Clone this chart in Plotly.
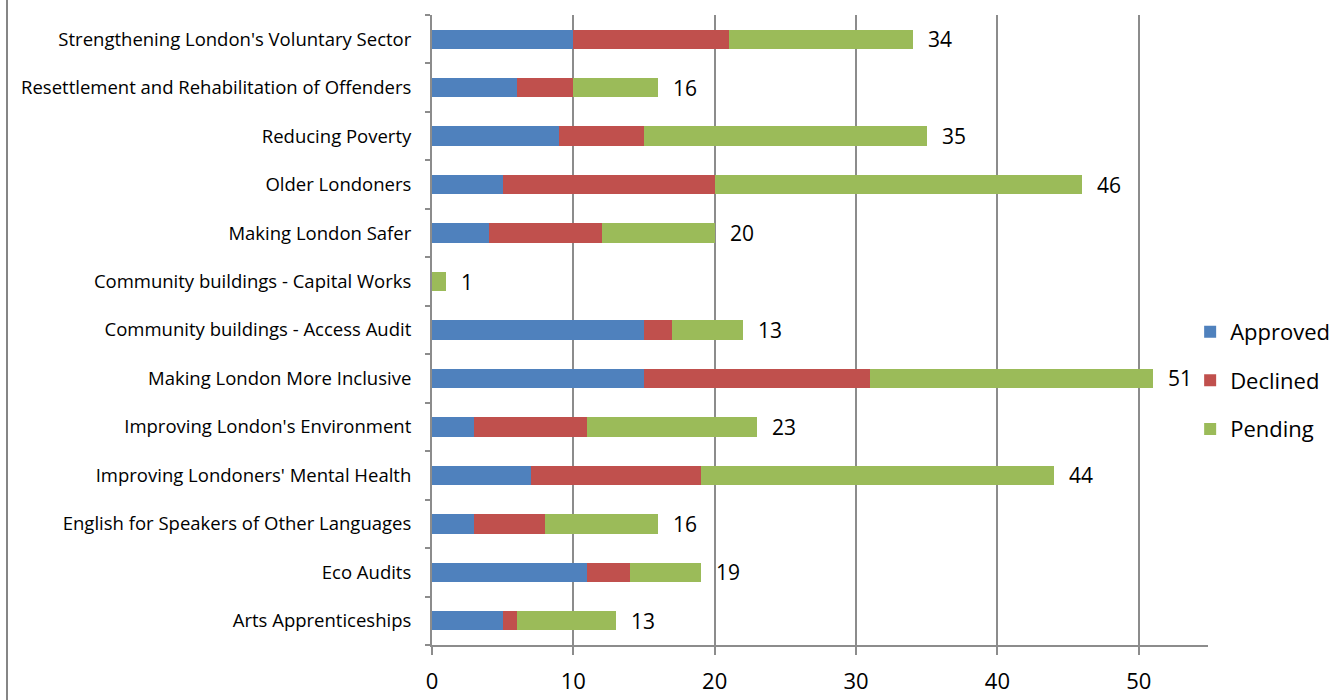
import plotly.graph_objects as go

categories = [
    "Strengthening London's Voluntary Sector",
    "Resettlement and Rehabilitation of Offenders",
    "Reducing Poverty",
    "Older Londoners",
    "Making London Safer",
    "Community buildings - Capital Works",
    "Community buildings - Access Audit",
    "Making London More Inclusive",
    "Improving London's Environment",
    "Improving Londoners' Mental Health",
    "English for Speakers of Other Languages",
    "Eco Audits",
    "Arts Apprenticeships",
]
approved = [10, 6, 9, 5, 4, 0, 15, 15, 3, 7, 3, 11, 5]
declined = [11, 4, 6, 15, 8, 0, 2, 16, 8, 12, 5, 3, 1]
pending = [13, 6, 20, 26, 8, 1, 5, 20, 12, 25, 8, 5, 7]
labels = [34, 16, 35, 46, 20, 1, 13, 51, 23, 44, 16, 19, 13]
x_ticks = [0, 10, 20, 30, 40, 50]

series = [("Approved", approved, "#4F81BD"),
          ("Declined", declined, "#C0504D"),
          ("Pending", pending, "#9BBB59")]

fig = go.Figure()
for name, vals, col in series:
    fig.add_trace(go.Bar(
        y=categories, x=vals, name=name, orientation="h",
        marker=dict(color=col, line=dict(width=0)),
        legendgroup=name,
    ))

totals = [a + d + p for a, d, p in zip(approved, declined, pending)]
for cat, tot, lab in zip(categories, totals, labels):
    fig.add_annotation(x=tot, y=cat, text=str(lab), showarrow=False,
                       xanchor="left", xshift=13,
                       font=dict(size=21, color="#000000"))

fig.add_shape(type="line", xref="paper", yref="paper",
              x0=(7 - 432) / 776, x1=(7 - 432) / 776, y0=-0.1, y1=1.1,
              line=dict(color="#868686", width=2))

fig.update_layout(
    width=1338, height=700,
    margin=dict(l=432, r=130, t=15, b=55, autoexpand=False),
    barmode="stack", bargap=0.6,
    plot_bgcolor="white", paper_bgcolor="white",
    font=dict(family="Open Sans", color="#000000"),
    legend=dict(x=0.977, xanchor="left", y=0.42, yanchor="middle",
                traceorder="grouped", tracegroupgap=17,
                font=dict(size=22), itemwidth=30),
    xaxis=dict(range=[0, 54.9], tickvals=x_ticks, showgrid=True,
               gridcolor="#8C8C8C", gridwidth=2, zeroline=False,
               showline=True, linecolor="#8C8C8C", linewidth=2,
               ticks="outside", ticklen=8, tickcolor="#8C8C8C", tickwidth=2,
               tickfont=dict(size=22), automargin=False,
               ticklabelstandoff=8),
    yaxis=dict(categoryorder="array", categoryarray=categories[::-1],
               tickson="boundaries", showgrid=False, showline=True,
               linecolor="#8C8C8C", linewidth=2, ticks="outside", ticklen=5,
               tickcolor="#8C8C8C", tickwidth=2, automargin=False,
               tickfont=dict(size=18.5), ticklabelstandoff=15),
)

fig.write_html("out.html", config={"displayModeBar": False},
               post_script="document.body.style.margin='0';document.body.style.padding='0';")
